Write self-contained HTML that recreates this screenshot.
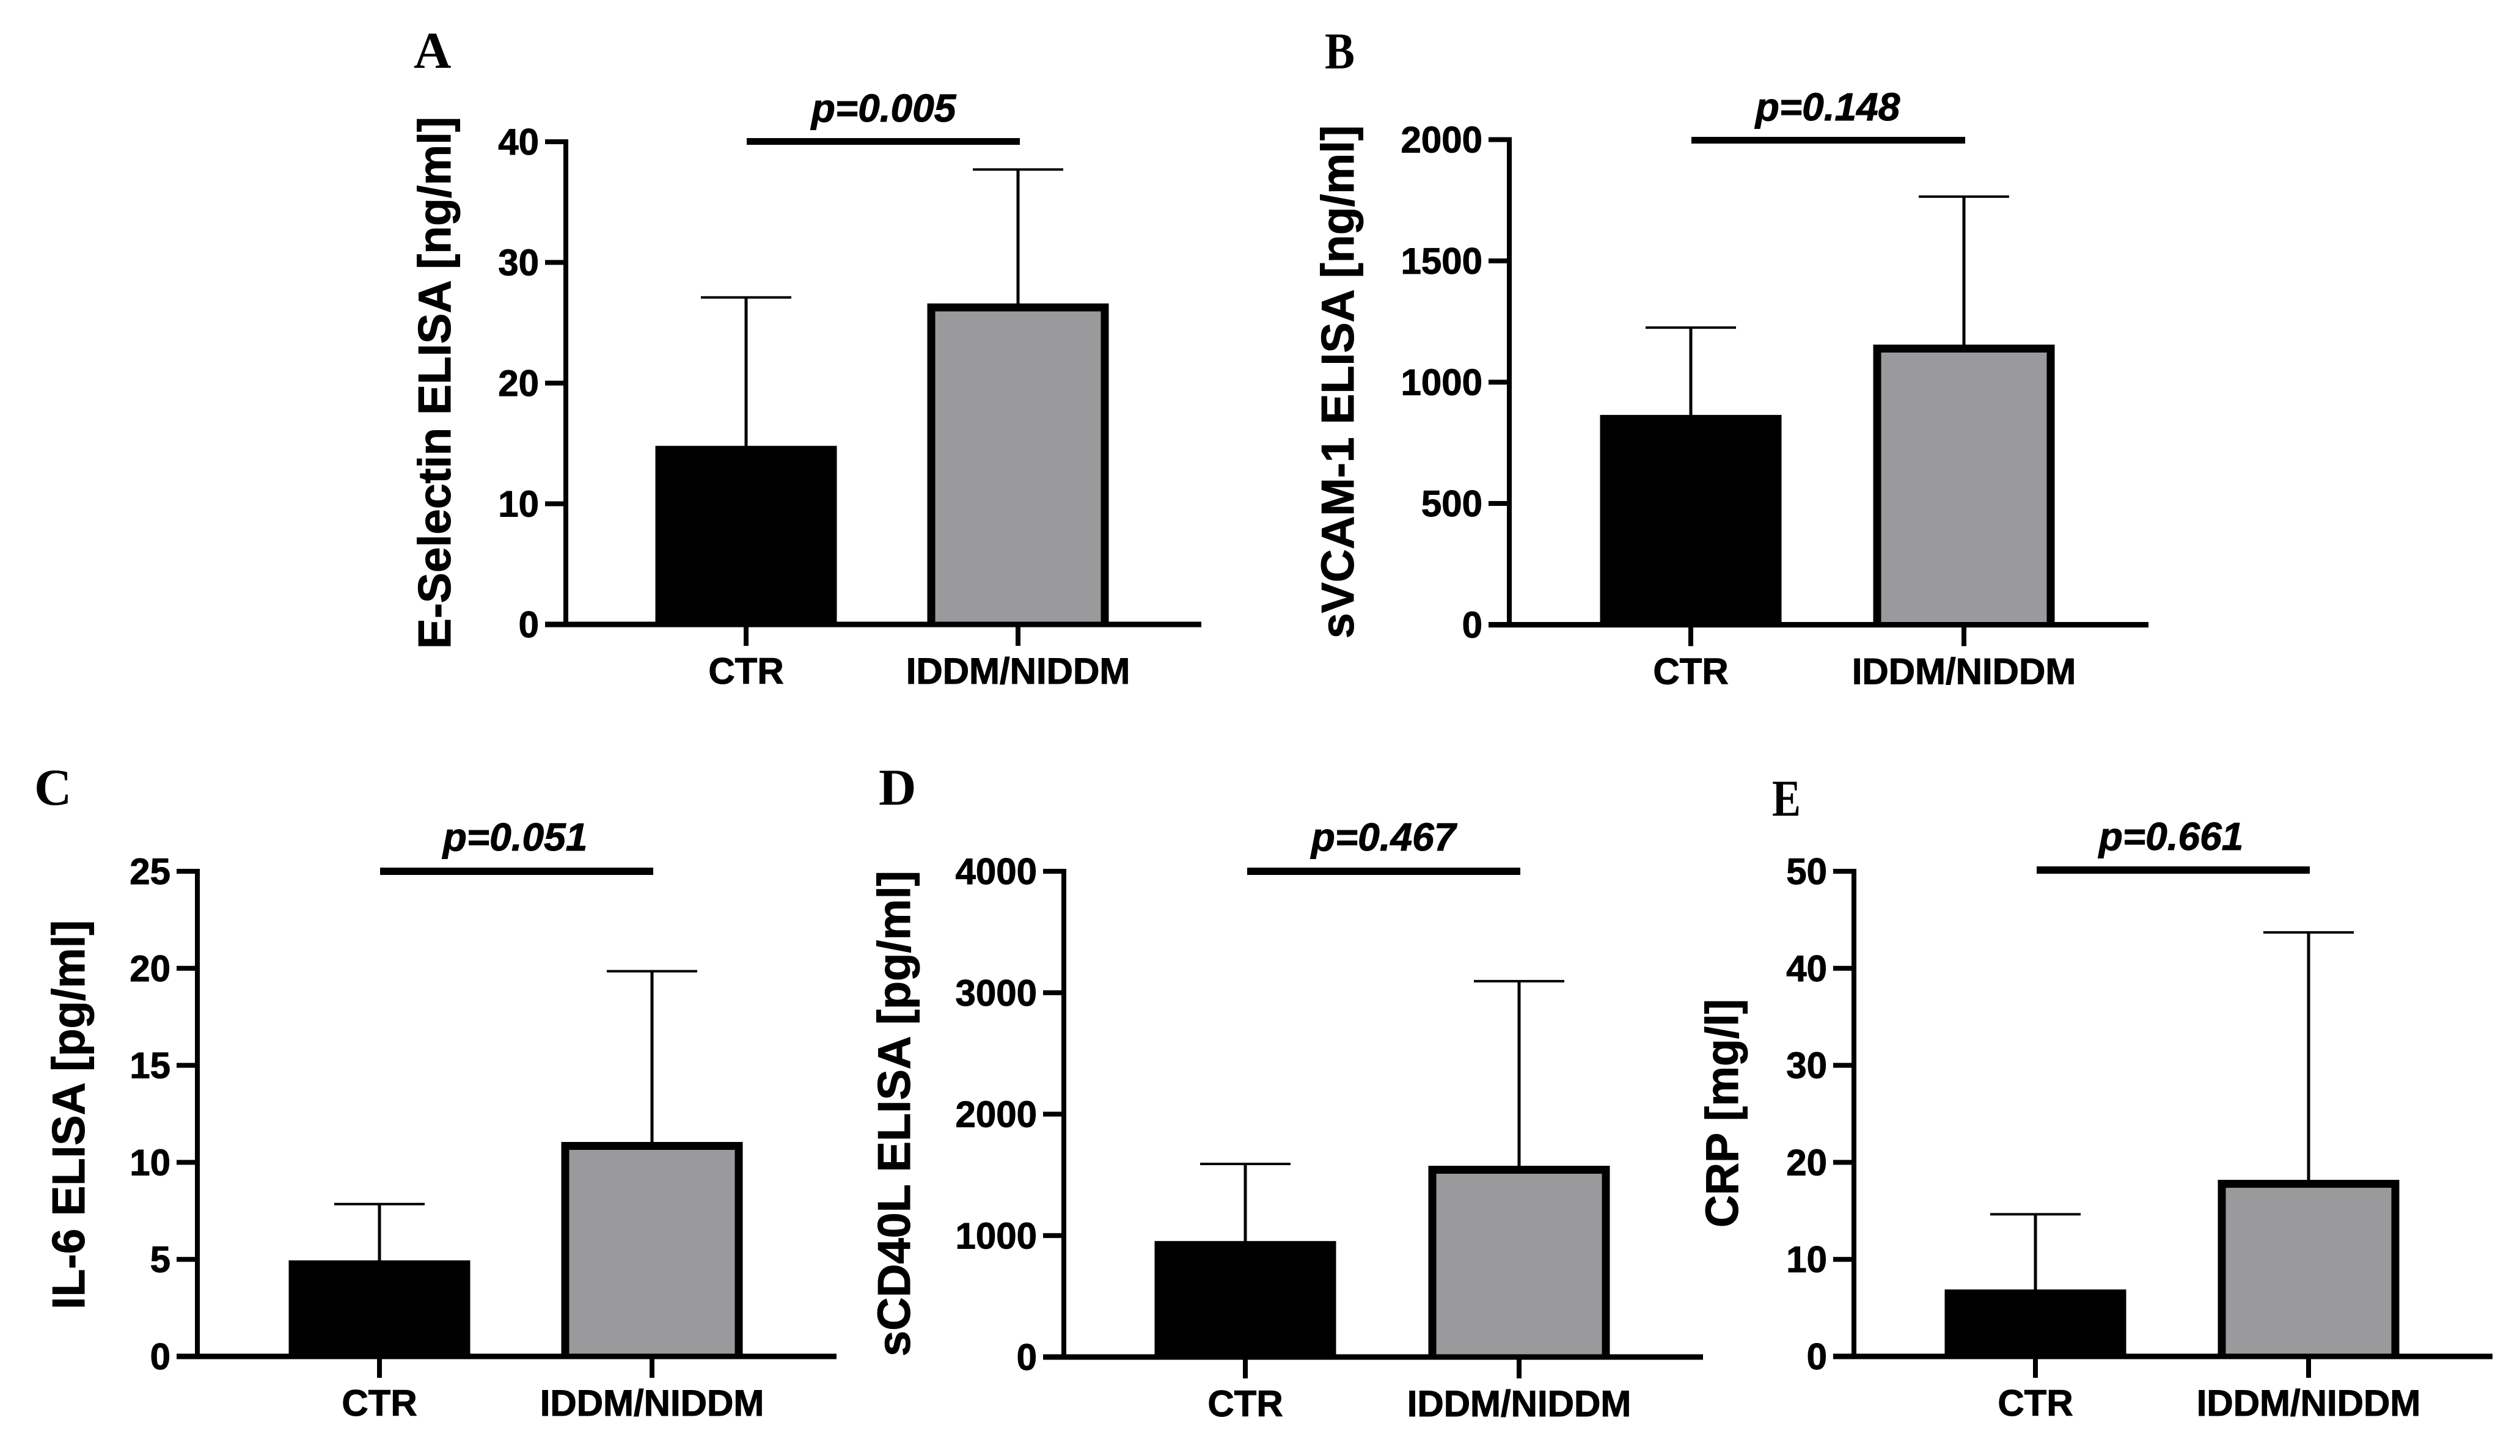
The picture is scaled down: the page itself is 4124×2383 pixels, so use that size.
<!DOCTYPE html>
<html lang="en">
<head>
<meta charset="utf-8">
<title>ELISA bar charts: CTR vs IDDM/NIDDM</title>
<style>
html,body{margin:0;padding:0;background:#fff;}
#figure{display:block;width:4124px;height:2383px;}
text{font-family:"Liberation Sans",Arial,sans-serif;font-weight:bold;fill:#000;stroke:#000;stroke-width:1px;}
.panel-letter{font-family:"Liberation Serif","Times New Roman",serif;font-size:85px;stroke-width:0;}
.y-title{font-size:75px;}
.p-value{font-size:64px;font-style:italic;text-anchor:middle;}
</style>
</head>
<body>
<svg id="figure" xmlns="http://www.w3.org/2000/svg" width="4124" height="2383" viewBox="0 0 4124 2383">
  <rect x="0" y="0" width="4124" height="2383" fill="#fff"/>

  <g id="panel-a">
    <text class="panel-letter" x="677" y="111">A</text>
    <text class="y-title" transform="translate(737,1062) rotate(-90)" textLength="871" lengthAdjust="spacingAndGlyphs">E-Selectin ELISA [ng/ml]</text>
    <text class="p-value" x="1446" y="199">p=0.005</text>
    <rect x="1222" y="226" width="447" height="11"/>
  </g>

  <g id="panel-b">
    <text class="panel-letter" x="2168" y="112" textLength="49" lengthAdjust="spacingAndGlyphs">B</text>
    <text class="y-title" transform="translate(2215,1045) rotate(-90)" textLength="840" lengthAdjust="spacingAndGlyphs">sVCAM-1 ELISA [ng/ml]</text>
    <text class="p-value" x="2991" y="197">p=0.148</text>
    <rect x="2768" y="224" width="448" height="11"/>
  </g>

  <g id="panel-c">
    <text class="panel-letter" x="56" y="1317">C</text>
    <text class="y-title" transform="translate(138,2143) rotate(-90)" textLength="637" lengthAdjust="spacingAndGlyphs">IL-6 ELISA [pg/ml]</text>
    <text class="p-value" x="843" y="1392">p=0.051</text>
    <rect x="622" y="1420" width="447" height="12"/>
  </g>

  <g id="panel-d">
    <text class="panel-letter" x="1438" y="1317">D</text>
    <text class="y-title" transform="translate(1489,2220) rotate(-90)" textLength="795" lengthAdjust="spacingAndGlyphs">sCD40L ELISA [pg/ml]</text>
    <text class="p-value" x="2264" y="1392">p=0.467</text>
    <rect x="2041" y="1420" width="447" height="12"/>
  </g>

  <g id="panel-e">
    <text class="panel-letter" x="2900" y="1335" textLength="47" lengthAdjust="spacingAndGlyphs">E</text>
    <text class="y-title" transform="translate(2844,2009) rotate(-90)" textLength="374" lengthAdjust="spacingAndGlyphs">CRP [mg/l]</text>
    <text class="p-value" x="3553" y="1391">p=0.661</text>
    <rect x="3333" y="1418" width="447" height="12"/>
  </g>
</svg>

<script>
// ---- chart data ----
const categories = ['CTR', 'IDDM/NIDDM'];
const panelIds = ['a', 'b', 'c', 'd', 'e'];
const ctrMeans = [14.8, 865, 4.95, 955, 6.9];
const diseaseMeans = [26.6, 1155, 11.05, 1575, 18.2];
const ctrErrorTops = [27.1, 1225, 7.85, 1590, 14.65];
const diseaseErrorTops = [37.7, 1765, 19.85, 3095, 43.7];
const ticksA = [0, 10, 20, 30, 40];
const ticksB = [0, 500, 1000, 1500, 2000];
const ticksC = [0, 5, 10, 15, 20, 25];
const ticksD = [0, 1000, 2000, 3000, 4000];
const ticksE = [0, 10, 20, 30, 40, 50];
const tickSets = [ticksA, ticksB, ticksC, ticksD, ticksE];

// ---- panel geometry ----
const frameA = { axisX: 926, xEnd: 1966, yTop: 232, yBase: 1022, ctrX: 1221, disX: 1666 };
const frameB = { axisX: 2470, xEnd: 3516, yTop: 228.5, yBase: 1022.5, ctrX: 2767, disX: 3214 };
const frameC = { axisX: 323, xEnd: 1369, yTop: 1426, yBase: 2220, ctrX: 621, disX: 1067 };
const frameD = { axisX: 1741, xEnd: 2787, yTop: 1426, yBase: 2221, ctrX: 2038, disX: 2486 };
const frameE = { axisX: 3034, xEnd: 4079, yTop: 1426, yBase: 2220, ctrX: 3331, disX: 3778 };
const frames = [frameA, frameB, frameC, frameD, frameE];

const SVG_NS = 'http://www.w3.org/2000/svg';
const BAR_WIDTH = 297;
const CAP_WIDTH = 148;
const BORDER = 13;

function shape(parent, tag, props) {
  const el = document.createElementNS(SVG_NS, tag);
  for (const key in props) el.setAttribute(key, props[key]);
  parent.appendChild(el);
  return el;
}

function yAxisScale(frame, ticks) {
  const max = ticks[ticks.length - 1];
  return function (value) {
    return frame.yBase - (value / max) * (frame.yBase - frame.yTop);
  };
}

panelIds.forEach(function (id, i) {
  const frame = frames[i];
  const ticks = tickSets[i];
  const y = yAxisScale(frame, ticks);
  const group = document.getElementById('panel-' + id);
  const centers = [frame.ctrX, frame.disX];
  const means = [ctrMeans[i], diseaseMeans[i]];
  const errorTops = [ctrErrorTops[i], diseaseErrorTops[i]];

  // error bars and bars
  centers.forEach(function (cx, k) {
    const stem = shape(group, 'rect', { x: cx - 2.5, y: y(errorTops[k]), width: 5, height: y(means[k]) - y(errorTops[k]) + 2 });
    
    

    const cap = shape(group, 'rect', { x: cx - CAP_WIDTH / 2, y: y(errorTops[k]) - 2, width: CAP_WIDTH, height: 4 });
    
    

    const top = y(means[k]);
    const h = frame.yBase - top;
    if (k === 0) {
      const bar = shape(group, 'rect', { x: cx - BAR_WIDTH / 2, y: top, width: BAR_WIDTH, height: h, fill: '#000' });
      
      
    } else {
      // open-bottomed outline: the grey fill runs down to the x axis
      const left = cx - BAR_WIDTH / 2 + BORDER / 2;
      const right = cx + BAR_WIDTH / 2 - BORDER / 2;
      const inner = top + BORDER / 2;
      const bar = shape(group, 'path', {
        d: 'M' + left + ' ' + frame.yBase + ' V' + inner + ' H' + right + ' V' + frame.yBase,
        fill: '#9a9a9c', stroke: '#000', 'stroke-width': BORDER
      });
      
      
    }

    const xTick = shape(group, 'rect', { x: cx - 4, y: frame.yBase, width: 8, height: 35 });
    
    

    const label = shape(group, 'text', { x: cx, y: frame.yBase + 97, 'text-anchor': 'middle', 'font-size': 60 });
    label.textContent = categories[k];
    
    
  });

  // axes
  const yAxis = shape(group, 'rect', { x: frame.axisX - 4, y: frame.yTop - 4, width: 8, height: frame.yBase - frame.yTop + 8 });
  
  

  const xAxis = shape(group, 'rect', { x: frame.axisX - 34, y: frame.yBase - 4.5, width: frame.xEnd - frame.axisX + 34, height: 9 });
  
  

  ticks.forEach(function (value) {
    const tick = shape(group, 'rect', { x: frame.axisX - 34, y: y(value) - 4, width: 34, height: 8 });
    
    

    const label = shape(group, 'text', { x: frame.axisX - 44, y: y(value) + 21, 'text-anchor': 'end', 'font-size': 60 });
    label.textContent = String(value);
    
    
  });
});
</script>
</body>
</html>
